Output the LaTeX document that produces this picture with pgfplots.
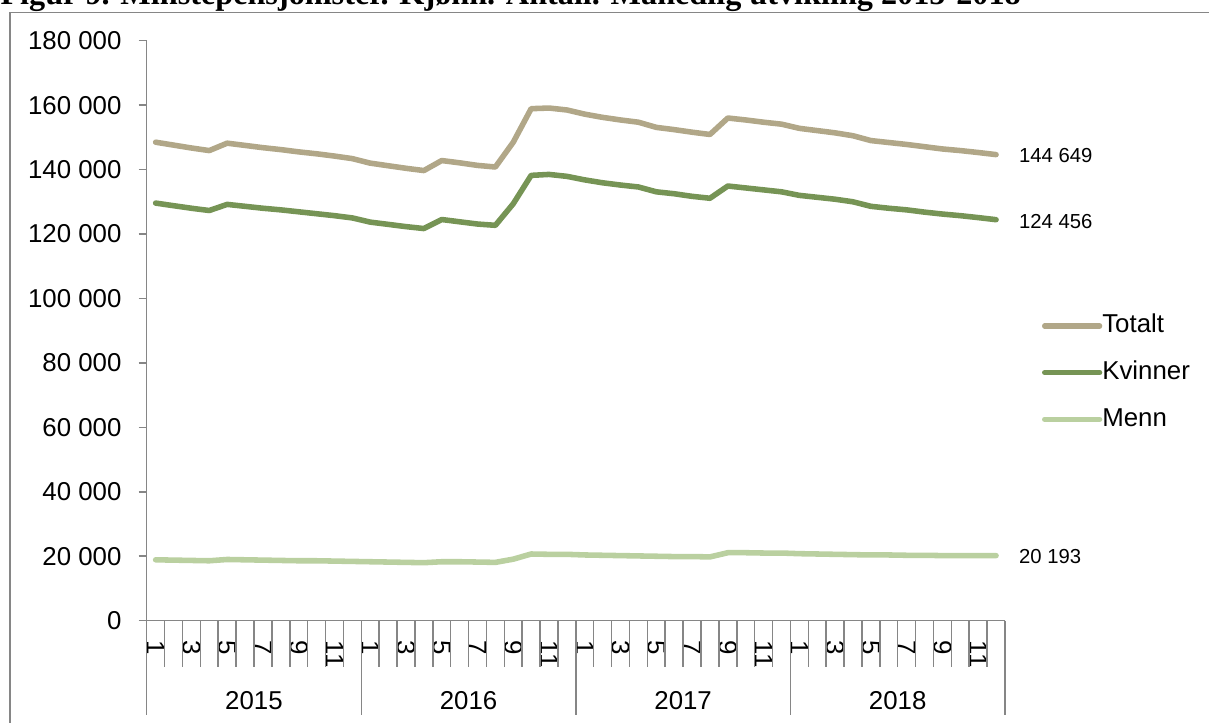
\documentclass[border=0pt]{standalone}
\usepackage{fontspec}
\setmainfont{Liberation Sans}
\newfontfamily\titlefont{Liberation Serif}
\usepackage{pgfplots}
\usepackage{pgfplotstable}
\pgfplotsset{compat=1.18}
\definecolor{cTot}{RGB}{177,167,136}
\definecolor{cKv}{RGB}{118,148,85}
\definecolor{cMe}{RGB}{186,208,160}
\definecolor{axgray}{RGB}{134,134,134}
\pgfplotstableread{
m T K M
0 148500 129600 18900
1 147600 128800 18800
2 146700 128000 18700
3 145900 127300 18600
4 148200 129200 19000
5 147500 128600 18900
6 146800 128000 18800
7 146200 127500 18700
8 145500 126900 18600
9 144900 126300 18600
10 144200 125700 18500
11 143400 125000 18400
12 142000 123700 18300
13 141200 123000 18200
14 140400 122300 18100
15 139700 121700 18000
16 142800 124500 18300
17 142100 123800 18300
18 141300 123100 18200
19 140800 122700 18100
20 148500 129400 19100
21 158900 138200 20700
22 159100 138500 20600
23 158500 137900 20600
24 157200 136800 20400
25 156200 135900 20300
26 155400 135200 20200
27 154700 134600 20100
28 153100 133100 20000
29 152400 132500 19900
30 151600 131700 19900
31 150900 131100 19800
32 156000 134900 21100
33 155400 134300 21100
34 154700 133700 21000
35 154100 133100 21000
36 152800 132000 20800
37 152100 131400 20700
38 151400 130800 20600
39 150500 130000 20500
40 149000 128600 20400
41 148400 128000 20400
42 147800 127500 20300
43 147100 126800 20300
44 146400 126200 20200
45 145900 125700 20200
46 145300 125100 20200
47 144649 124456 20193
}\datatable
\pgfplotstableread{
x y
-0.5 -29300
11.5 -29300
23.5 -29300
35.5 -29300
47.5 -29300
}\yearsep
\pgfplotstableread{
x y
0.5 -14300
1.5 -14300
2.5 -14300
3.5 -14300
4.5 -14300
5.5 -14300
6.5 -14300
7.5 -14300
8.5 -14300
9.5 -14300
10.5 -14300
12.5 -14300
13.5 -14300
14.5 -14300
15.5 -14300
16.5 -14300
17.5 -14300
18.5 -14300
19.5 -14300
20.5 -14300
21.5 -14300
22.5 -14300
24.5 -14300
25.5 -14300
26.5 -14300
27.5 -14300
28.5 -14300
29.5 -14300
30.5 -14300
31.5 -14300
32.5 -14300
33.5 -14300
34.5 -14300
36.5 -14300
37.5 -14300
38.5 -14300
39.5 -14300
40.5 -14300
41.5 -14300
42.5 -14300
43.5 -14300
44.5 -14300
45.5 -14300
46.5 -14300
}\monthsep
\begin{document}
\begin{tikzpicture}
\begin{axis}[
  at={(0,0)}, anchor=south west,
  scale only axis, width=308.99pt, height=208.8pt,
  xmin=-0.5, xmax=47.5, ymin=0, ymax=180000,
  clip=false,
  axis lines*=left,
  axis line style={draw=axgray, line width=0.55pt},
  tick align=outside,
  major tick length=2.9pt,
  scaled y ticks=false,
  ytick={0,20000,40000,60000,80000,100000,120000,140000,160000,180000},
  yticklabels={0,20 000,40 000,60 000,80 000,100 000,120 000,140 000,160 000,180 000},
  ytick style={draw=axgray, line width=0.55pt},
  yticklabel style={font=\fontsize{9.3}{11}\selectfont, inner sep=0pt, xshift=-6pt},
  xtick={0,2,...,46},
  xticklabels={1,3,5,7,9,11,1,3,5,7,9,11,1,3,5,7,9,11,1,3,5,7,9,11},
  xtick style={draw=none},
  xticklabel shift=4.3pt,
  xticklabel style={font=\fontsize{9.3}{11}\selectfont, inner sep=0pt, outer sep=0pt, rotate=-90, anchor=west},
  /pgf/number format/assume math mode=true,
  legend style={at={(rel axis cs:1.0431,0.4278)}, anchor=west, draw=none, fill=none,
    inner sep=0pt, outer sep=0pt, row sep=7.8pt,
    font=\fontsize{9.3}{11}\selectfont,
    nodes={inner sep=0pt, text height=7pt, text depth=2pt},
    /tikz/every even column/.append style={column sep=1.5pt}},
  legend image code/.code={\draw[#1, line width=1.9pt] (0pt,0pt) -- (19.8pt,0pt);},
  legend cell align=left,
]
\addplot[cTot, line width=2pt, line cap=round, line join=round] table[x=m, y=T] {\datatable}
  node[pos=1, anchor=west, xshift=7.3pt, yshift=-0.5pt, inner sep=0pt, font=\fontsize{7.3}{9}\selectfont, black] {144 649};
\addlegendentry{Totalt}
\addplot[cKv, line width=2pt, line cap=round, line join=round] table[x=m, y=K] {\datatable}
  node[pos=1, anchor=west, xshift=7.3pt, yshift=-0.5pt, inner sep=0pt, font=\fontsize{7.3}{9}\selectfont, black] {124 456};
\addlegendentry{Kvinner}
\addplot[cMe, line width=2pt, line cap=round, line join=round] table[x=m, y=M] {\datatable}
  node[pos=1, anchor=west, xshift=7.3pt, yshift=-0.3pt, inner sep=0pt, font=\fontsize{7.3}{9}\selectfont, black] {20 193};
\addlegendentry{Menn}
\addplot[axgray, line width=0.55pt, ycomb, forget plot] table[x=x, y=y] {\monthsep};
\addplot[axgray, line width=0.55pt, ycomb, forget plot] table[x=x, y=y] {\yearsep};
\node[font=\fontsize{9.3}{11}\selectfont] at (axis cs:5.5,0) [yshift=-28.6pt] {2015};
\node[font=\fontsize{9.3}{11}\selectfont] at (axis cs:17.5,0) [yshift=-28.6pt] {2016};
\node[font=\fontsize{9.3}{11}\selectfont] at (axis cs:29.5,0) [yshift=-28.6pt] {2017};
\node[font=\fontsize{9.3}{11}\selectfont] at (axis cs:41.5,0) [yshift=-28.6pt] {2018};
\end{axis}
\draw[axgray, line width=0.55pt] (-49.2pt,-60pt) -- (-49.2pt,218.9pt) -- (400pt,218.9pt);
\node[anchor=base west, inner sep=0pt, font=\titlefont\bfseries\fontsize{11.6}{13}\selectfont] at (-52.81pt,221.9pt) {Figur 9. Minstepensjonister. Kjønn. Antall. Månedlig utvikling 2015-2018};
\pgfresetboundingbox
\path[use as bounding box] (-52.81pt,-36.47pt) rectangle (382.43pt,223.45pt);
\end{tikzpicture}
\end{document}
